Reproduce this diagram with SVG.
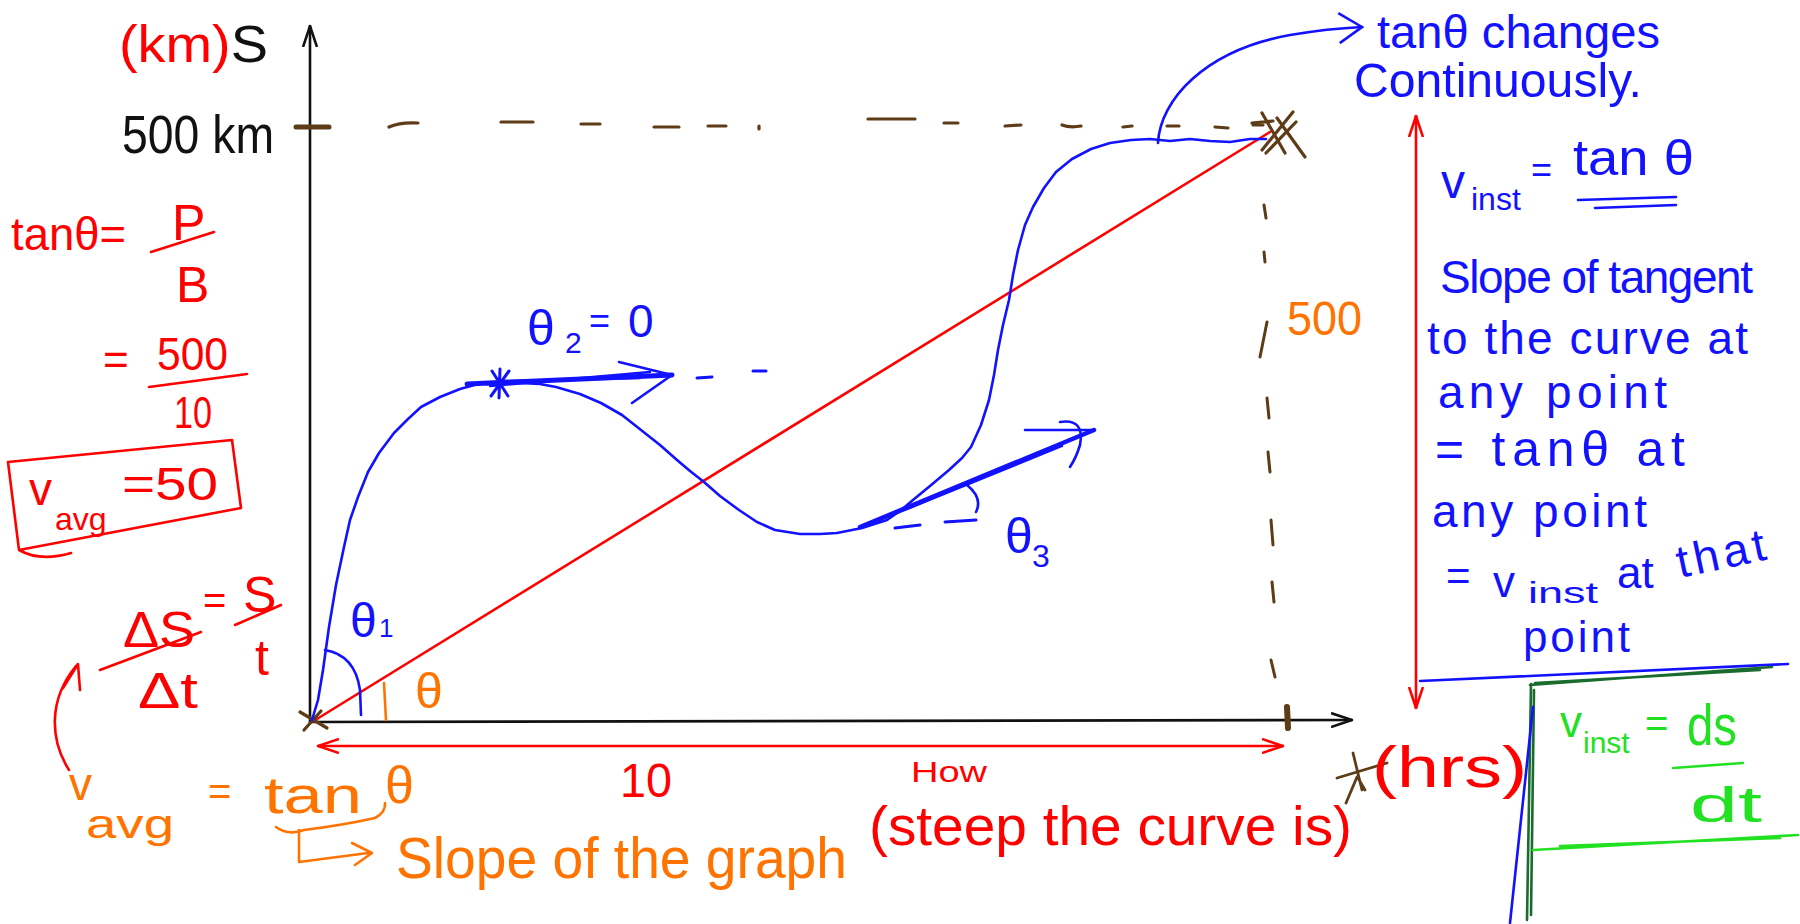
<svg xmlns="http://www.w3.org/2000/svg" width="1800" height="924" viewBox="0 0 1800 924">
<style>
text{font-family:"Liberation Sans","DejaVu Sans",sans-serif}
.s{fill:none;stroke-linecap:round;stroke-linejoin:round;stroke-width:2.6}
.k{stroke:#111}.r{stroke:#ff0000}.b{stroke:#1212ff}.o{stroke:#ff7300}.br{stroke:#5e3c17}.g{stroke:#1a6b2e}.lg{stroke:#22e022}
.tk{fill:#111}.tr{fill:#ff0000}.tb{fill:#1212ff}.to{fill:#ff7300}.tlg{fill:#22e022}
</style>
<defs>
<marker id="mk" viewBox="0 0 22 16" refX="21" refY="8" markerWidth="22" markerHeight="16" markerUnits="userSpaceOnUse" orient="auto-start-reverse"><path d="M0,1 L21,8 L0,15" fill="none" stroke="#111" stroke-width="2.6"/></marker>
<marker id="mr" viewBox="0 0 22 16" refX="21" refY="8" markerWidth="22" markerHeight="16" markerUnits="userSpaceOnUse" orient="auto-start-reverse"><path d="M0,1 L21,8 L0,15" fill="none" stroke="#ff0000" stroke-width="2.6"/></marker>
<marker id="mb" viewBox="0 0 26 32" refX="24" refY="16" markerWidth="26" markerHeight="32" markerUnits="userSpaceOnUse" orient="auto"><path d="M1,1 L24,16 L1,31" fill="none" stroke="#1212ff" stroke-width="2.6"/></marker>
</defs>

<g id="connectors">
  <!-- axes -->
  <line class="s k" x1="310" y1="722" x2="310" y2="26" marker-end="url(#mk)"/>
  <line class="s k" x1="310" y1="722" x2="1352" y2="720" marker-end="url(#mk)"/>
  <!-- red secant line -->
  <line class="s r" x1="312" y1="722" x2="1270" y2="132"/>
  <!-- red double arrows -->
  <line class="s r" x1="318" y1="746" x2="1283" y2="746" marker-start="url(#mr)" marker-end="url(#mr)"/>
  <line class="s r" x1="1416" y1="116" x2="1416" y2="708" marker-start="url(#mr)" marker-end="url(#mr)"/>
  <!-- brown dashed guides -->
  <g class="s br">
    <line x1="296" y1="127" x2="329" y2="127" stroke-width="5"/>
    <path d="M389,127 Q400,122 418,123 M501,122 L533,122 M581,124 L600,124 M654,127 L679,127 M708,126 L726,126 M759,126 L759,129 M868,119 L915,119 M944,123 L958,123 M1005,126 L1021,125 M1062,125 Q1070,128 1081,126 M1123,127 L1132,126 M1167,126 L1179,126 M1215,127 L1228,128 M1253,125 L1263,125" stroke-width="3.2"/>
    <path d="M1264,205 L1266,218 M1264,252 L1265,262 M1260,357 L1267,322 M1267,398 L1269,418 M1268,452 L1270,472 M1271,520 L1273,545 M1272,582 L1274,602 M1271,660 L1275,677" stroke-width="3"/>
    <line x1="1287" y1="707" x2="1288" y2="728" stroke-width="6"/>
    <!-- X marks -->
    <path d="M1262,113 L1285,153 M1277,118 L1305,157 M1293,112 L1262,150 M1296,122 L1266,153 M1252,123 L1273,121" stroke-width="3.2"/>
    <path d="M300,712 L327,728 M304,730 L321,711" stroke-width="3.2"/>
    <path d="M1353,753 L1362,790 M1337,778 L1387,763 M1357,777 L1346,803 M1358,778 L1365,790" stroke-width="2.8"/>
  </g>
  <!-- blue curve s(t) -->
  <polyline class="s b" points="312,720 318,700 323,670 329,627 336,585 344,547 350,520 358,497 368,472 379,453 394,433 408,419 421,407 440,397 460,389 478,384 497,382 520,383 540,384 556,387 580,394 601,403 622,415 641,430 660,445 677,460 690,471 704,482 720,496 739,510 757,522 775,530 800,534 820,534 837,533 862,528 887,520 900,511 913,500 930,486 949,470 962,458 971,447 981,425 989,400 994,375 998,350 1003,325 1009,300 1013,275 1018,250 1025,225 1033,207 1044,188 1056,172 1072,159 1091,149 1110,143 1131,140 1150,139 1170,141 1190,139 1210,141 1230,142 1250,139 1266,139"/>
  <!-- theta1 arc -->
  <path class="s b" d="M325,650 Q355,655 360,690 L361,715"/>
  <!-- tangent at peak -->
  <g class="s b">
    <path d="M467,384 L672,375" stroke-width="5"/>
    <path d="M490,386 L650,372 M505,381 L640,378" stroke-width="2.4"/>
    <path d="M619,362 L672,375 L632,403"/>
    <path d="M697,378 L712,377 M753,371 L766,371" stroke-width="3"/>
    <path d="M492,371 L508,396 M509,371 L491,396 M486,384 L514,382 M500,369 L499,398" stroke-width="3"/>
  </g>
  <!-- tangent theta3 -->
  <g class="s b">
    <path d="M860,527 L1094,430" stroke-width="4.5"/>
    <path d="M875,522 L1062,446 M905,510 L1045,452" stroke-width="2.4"/>
    <path d="M1025,430 L1094,430 M1060,422 Q1085,418 1080,445 Q1076,458 1070,467"/>
    <path d="M895,528 L920,525 M945,522 L976,520" stroke-width="3"/>
    <path d="M967,485 Q983,498 976,512"/>
  </g>
  <!-- blue annotation arrow -->
  <path class="s b" d="M1158,143 C1160,100 1205,50 1290,35 C1320,30 1342,28 1362,27" marker-end="url(#mb)"/>
  <!-- red curved arrow -->
  <path class="s r" d="M69,770 C50,740 48,700 76,666"/>
  <path class="s r" d="M63,688 L78,664 L80,690"/>
  <!-- orange brace and bent arrow -->
  <path class="s o" d="M276,827 Q288,836 304,830 Q344,825 375,818 Q386,812 385,803"/>
  <path class="s o" d="M299,830 L299,862 L368,853 M352,843 L372,853 L355,865"/>
  <!-- orange angle tick -->
  <path class="s o" d="M384,683 L386,720" stroke-width="5"/>
  <!-- blue separator and boxes at right -->
  <path class="s b" d="M1420,681 L1788,664"/>
  <path class="s g" d="M1530,685 L1772,667 M1535,683 L1760,670 M1531,684 L1527,920 M1534,690 L1531,915" stroke-width="2.6"/>
  <path class="s b" d="M1533,707 L1510,923"/>
  <path class="s lg" d="M1533,850 L1798,835 M1560,846 L1780,838" stroke-width="3"/>
</g>

<g id="axis-labels">
  <text x="119" y="62" font-size="52" textLength="149" lengthAdjust="spacingAndGlyphs"><tspan class="tr">(km)</tspan><tspan class="tk">S</tspan></text>
  <text class="tk" x="122" y="153" font-size="54" textLength="152" lengthAdjust="spacingAndGlyphs">500 km</text>
  <text class="tr" x="620" y="797" font-size="48" textLength="52" lengthAdjust="spacingAndGlyphs">10</text>
  <text class="tr" x="1372" y="787" font-size="58" textLength="155" lengthAdjust="spacingAndGlyphs">(hrs)</text>
  <text class="to" x="1287" y="335" font-size="48" textLength="75" lengthAdjust="spacingAndGlyphs">500</text>
</g>

<g id="tan-def">
  <text class="tr" x="11" y="250" font-size="46" textLength="115" lengthAdjust="spacingAndGlyphs">tanθ=</text>
  <text class="tr" x="172" y="240" font-size="50">P</text>
  <line class="s r" x1="151" y1="252" x2="214" y2="232"/>
  <text class="tr" x="176" y="302" font-size="50">B</text>
  <text class="tr" x="103" y="375" font-size="44">=</text>
  <text class="tr" x="157" y="370" font-size="46" textLength="71" lengthAdjust="spacingAndGlyphs">500</text>
  <line class="s r" x1="149" y1="387" x2="247" y2="374"/>
  <text class="tr" x="174" y="428" font-size="44" textLength="38" lengthAdjust="spacingAndGlyphs">10</text>
</g>

<g id="vavg-box">
  <path class="s r" d="M8,462 L232,440 L241,508 L19,550 Z M19,550 Q40,562 71,553"/>
  <text class="tr" x="29" y="505" font-size="46">v</text>
  <text class="tr" x="55" y="530" font-size="32">avg</text>
  <text class="tr" x="122" y="500" font-size="46" textLength="96" lengthAdjust="spacingAndGlyphs">=50</text>
</g>

<g id="ds-dt">
  <text class="tr" x="123" y="647" font-size="50" textLength="72" lengthAdjust="spacingAndGlyphs">ΔS</text>
  <line class="s r" x1="100" y1="670" x2="201" y2="632"/>
  <text class="tr" x="138" y="708" font-size="50" textLength="60" lengthAdjust="spacingAndGlyphs">Δt</text>
  <text class="tr" x="203" y="614" font-size="40">=</text>
  <text class="tr" x="243" y="612" font-size="50">S</text>
  <line class="s r" x1="235" y1="625" x2="281" y2="605"/>
  <text class="tr" x="255" y="675" font-size="50">t</text>
</g>

<g id="vavg-tan">
  <text class="to" x="69" y="800" font-size="46">v</text>
  <text class="to" x="86" y="838" font-size="40" textLength="88" lengthAdjust="spacingAndGlyphs">avg</text>
  <text class="to" x="208" y="805" font-size="40">=</text>
  <text class="to" x="264" y="813" font-size="52" textLength="98" lengthAdjust="spacingAndGlyphs">tan</text>
  <text class="to" x="385" y="803" font-size="52">θ</text>
  <text class="to" x="396" y="878" font-size="58" textLength="451" lengthAdjust="spacingAndGlyphs">Slope of the graph</text>
</g>

<g id="steep-note">
  <text class="tr" x="911" y="782" font-size="30" textLength="76" lengthAdjust="spacingAndGlyphs">How</text>
  <text class="tr" x="869" y="845" font-size="56" textLength="483" lengthAdjust="spacingAndGlyphs">(steep the curve is)</text>
</g>

<g id="angles">
  <text class="tb" x="350" y="637" font-size="48">θ</text>
  <text class="tb" x="379" y="637" font-size="26">1</text>
  <text class="to" x="415" y="708" font-size="50">θ</text>
  <text class="tb" x="527" y="345" font-size="50">θ</text>
  <text class="tb" x="565" y="353" font-size="30">2</text>
  <text class="tb" x="589" y="333" font-size="36">=</text>
  <text class="tb" x="628" y="337" font-size="46">0</text>
  <text class="tb" x="1005" y="553" font-size="50">θ</text>
  <text class="tb" x="1032" y="567" font-size="32">3</text>
</g>

<g id="continuous-note">
  <text class="tb" x="1377" y="48" font-size="46" textLength="283" lengthAdjust="spacingAndGlyphs">tanθ changes</text>
  <text class="tb" x="1354" y="97" font-size="48" textLength="288" lengthAdjust="spacingAndGlyphs">Continuously.</text>
</g>

<g id="vinst-def">
  <text class="tb" x="1441" y="198" font-size="48">v</text>
  <text class="tb" x="1471" y="210" font-size="32">inst</text>
  <text class="tb" x="1531" y="182" font-size="36">=</text>
  <text class="tb" x="1573" y="175" font-size="50" textLength="121" lengthAdjust="spacingAndGlyphs">tan θ</text>
  <path class="s b" d="M1578,200 L1676,197 M1595,208 L1676,205"/>
  <text class="tb" x="1440" y="293" font-size="46" textLength="313" lengthAdjust="spacing">Slope of tangent</text>
  <text class="tb" x="1427" y="354" font-size="46" textLength="321" lengthAdjust="spacing">to the curve at</text>
  <text class="tb" x="1438" y="408" font-size="46" textLength="229" lengthAdjust="spacing">any point</text>
  <text class="tb" x="1435" y="466" font-size="50" textLength="250" lengthAdjust="spacing">= tanθ at</text>
  <text class="tb" x="1432" y="527" font-size="46" textLength="215" lengthAdjust="spacing">any point</text>
  <text class="tb" x="1446" y="590" font-size="42">=</text>
  <text class="tb" x="1493" y="597" font-size="44">v</text>
  <text class="tb" x="1528" y="603" font-size="30" textLength="70" lengthAdjust="spacingAndGlyphs">inst</text>
  <text class="tb" x="1617" y="588" font-size="44">at</text>
  <text class="tb" x="1680" y="578" font-size="46" transform="rotate(-12 1680 578)" textLength="90" lengthAdjust="spacing">that</text>
  <text class="tb" x="1523" y="652" font-size="44" textLength="107" lengthAdjust="spacing">point</text>
</g>

<g id="vinst-derivative">
  <text class="tlg" x="1560" y="737" font-size="44">v</text>
  <text class="tlg" x="1583" y="753" font-size="30">inst</text>
  <text class="tlg" x="1645" y="737" font-size="40">=</text>
  <text class="tlg" x="1687" y="745" font-size="58" textLength="50" lengthAdjust="spacingAndGlyphs">ds</text>
  <line class="s lg" x1="1673" y1="768" x2="1743" y2="763"/>
  <text class="tlg" x="1690" y="822" font-size="50" textLength="72" lengthAdjust="spacingAndGlyphs">dt</text>
</g>
</svg>
